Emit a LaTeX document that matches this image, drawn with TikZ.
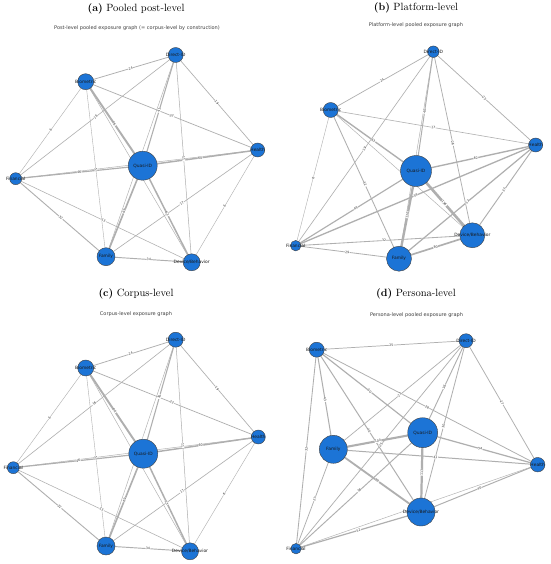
\documentclass[tikz,border=0pt]{standalone}
\usepackage{fontspec}
\newfontfamily\plotfont{DejaVu Sans}
\usetikzlibrary{backgrounds}

\definecolor{nodeblue}{RGB}{28,116,214}
\definecolor{edgegray}{RGB}{175,175,175}

\tikzset{
  gnode/.style={circle, draw=black!75, line width=0.4pt, fill=nodeblue, inner sep=0pt},
  gn/.style={gnode, label={[nlabel]center:#1}},
  nlabel/.style={font=\plotfont\fontsize{4.4}{5}\selectfont, text=black!90},
  edge/.style={draw=edgegray, line cap=round},
  wlabel/.style={font=\plotfont\fontsize{3.2}{3.6}\selectfont, fill=white, inner sep=0.3pt, text=black!80, sloped},
  paneltitle/.style={font=\fontsize{10.5}{12}\selectfont},
  subtitle/.style={font=\plotfont\fontsize{5}{6}\selectfont, text=black!75}
}

% edge lists: from/to/weight (the weight is also the printed label)
\def\edgesAC{bio/dir/24, dir/hea/19, dir/qua/41, dir/fin/16, dir/dev/11,
  bio/hea/22, bio/qua/86, bio/fin/6, bio/fam/5, fin/qua/46, fin/fam/32,
  fin/dev/13, qua/hea/60, qua/fam/69, qua/dev/63, hea/fam/17, hea/dev/6, fam/dev/34}
\def\edgesB{dir/bio/24, dir/hea/25, dir/qua/40, dir/fin/19, dir/dev/26,
  bio/hea/17, bio/qua/63, bio/fin/6, bio/fam/32, hea/qua/62, hea/fin/59,
  hea/dev/37, hea/fam/53, qua/fin/49, qua/fam/120, qua/dev/136, fin/dev/32,
  fin/fam/29, fam/dev/80}
\def\edgesD{bio/dir/25, bio/qua/50, bio/hea/28, bio/fam/43, bio/fin/32,
  bio/dev/40, dir/fam/23, dir/qua/36, dir/dev/30, dir/hea/27, dir/fin/25,
  fam/qua/104, qua/hea/54, qua/dev/113, qua/fin/38, fam/hea/41, fam/dev/89,
  fam/fin/27, hea/dev/40, dev/fin/52}

\begin{document}
\begin{tikzpicture}[x=1pt, y=-1pt]
    \useasboundingbox (0,0) rectangle (550,564);

    % (a) Pooled post-level
    \node[paneltitle] (a-title) at (136,8.5) {\textbf{(a)} Pooled post-level};
    \node[subtitle] (a-sub) at (137,27.7) {Post-level pooled exposure graph (= corpus-level by construction)};
    \node[gn=Direct-ID, minimum size=15pt] (a-dir) at (175.7,55) {};
    \node[gn=Biometric, minimum size=16pt] (a-bio) at (85.7,81.7) {};
    \node[gn=Health, minimum size=14pt] (a-hea) at (257.7,150) {};
    \node[gn=Quasi-ID, minimum size=29pt] (a-qua) at (142.7,165.7) {};
    \node[gn=Financial, minimum size=12pt] (a-fin) at (15.7,178.7) {};
    \node[gn=Family, minimum size=18pt] (a-fam) at (106,256.7) {};
    \node[gn=Device/Behavior, minimum size=17pt] (a-dev) at (191.7,262.3) {};

    % (b) Platform-level
    \node[paneltitle] (b-title) at (416,7.5) {\textbf{(b)} Platform-level};
    \node[subtitle] (b-sub) at (416,25) {Platform-level pooled exposure graph};
    \node[gn=Direct-ID, minimum size=11.5pt] (b-dir) at (433.3,51.7) {};
    \node[gn=Biometric, minimum size=15pt] (b-bio) at (330.7,110) {};
    \node[gn=Health, minimum size=14pt] (b-hea) at (535.7,145) {};
    \node[gn=Quasi-ID, minimum size=31pt] (b-qua) at (416,171) {};
    \node[gn=Device/Behavior, minimum size=25pt] (b-dev) at (472.3,235.3) {};
    \node[gn=Financial, minimum size=10.5pt] (b-fin) at (295.7,245.7) {};
    \node[gn=Family, minimum size=25pt] (b-fam) at (399,258.7) {};

    % (c) Corpus-level
    \node[paneltitle] (c-title) at (136,294) {\textbf{(c)} Corpus-level};
    \node[subtitle] (c-sub) at (136,314) {Corpus-level exposure graph};
    \node[gn=Direct-ID, minimum size=15pt] (c-dir) at (175.7,339.7) {};
    \node[gn=Biometric, minimum size=16pt] (c-bio) at (85.7,368) {};
    \node[gn=Health, minimum size=14pt] (c-hea) at (258.3,437) {};
    \node[gn=Quasi-ID, minimum size=29pt] (c-qua) at (143.3,453.7) {};
    \node[gn=Financial, minimum size=12pt] (c-fin) at (13.3,467.7) {};
    \node[gn=Family, minimum size=18pt] (c-fam) at (106,546) {};
    \node[gn=Device/Behavior, minimum size=17pt] (c-dev) at (190,551.3) {};

    % (d) Persona-level
    \node[paneltitle] (d-title) at (416,294) {\textbf{(d)} Persona-level};
    \node[subtitle] (d-sub) at (416.5,314.7) {Persona-level pooled exposure graph};
    \node[gn=Biometric, minimum size=15pt] (d-bio) at (316.7,349.7) {};
    \node[gn=Direct-ID, minimum size=14pt] (d-dir) at (466,340.7) {};
    \node[gn=Quasi-ID, minimum size=30pt] (d-qua) at (422.7,432.7) {};
    \node[gn=Family, minimum size=28pt] (d-fam) at (333.3,449.3) {};
    \node[gn=Health, minimum size=14.5pt] (d-hea) at (537.7,464.7) {};
    \node[gn=Device/Behavior, minimum size=28pt] (d-dev) at (421,512) {};
    \node[gn=Financial, minimum size=10.5pt] (d-fin) at (296,548.7) {};

    % Edges under the nodes, widths follow the weights
    \begin{pgfonlayer}{background}
        \fill[white] (0,0) rectangle (550,564);
        \foreach \p in {a,c} {
            \foreach \u/\v/\w in \edgesAC {
                \pgfmathsetmacro{\lw}{0.3+0.019*\w}
                \draw[edge, line width=\lw pt] (\p-\u) -- (\p-\v);
            }
            \foreach \u/\v in {dir/fam, bio/dev, fin/hea}
                \draw[edge, line width=0.45pt] (\p-\u) -- (\p-\v);
        }
        \foreach \u/\v/\w in \edgesB {
            \pgfmathsetmacro{\lw}{0.3+0.017*\w}
            \draw[edge, line width=\lw pt] (b-\u) -- (b-\v);
        }
        \foreach \u/\v in {dir/fam, bio/dev}
            \draw[edge, line width=0.45pt] (b-\u) -- (b-\v);
        \foreach \u/\v/\w in \edgesD {
            \pgfmathsetmacro{\lw}{0.3+0.017*\w}
            \draw[edge, line width=\lw pt] (d-\u) -- (d-\v);
        }
        \draw[edge, line width=0.45pt] (d-hea) -- (d-fin);

        % weight labels at the middle of each edge
        \foreach \p in {a,c}
            \foreach \u/\v/\w in \edgesAC
                \path (\p-\u.center) -- (\p-\v.center) node[wlabel, midway] {\w};
        \foreach \u/\v/\w in \edgesB
            \path (b-\u.center) -- (b-\v.center) node[wlabel, midway] {\w};
        \foreach \u/\v/\w in \edgesD
            \path (d-\u.center) -- (d-\v.center) node[wlabel, midway] {\w};
    \end{pgfonlayer}
\end{tikzpicture}
\end{document}
